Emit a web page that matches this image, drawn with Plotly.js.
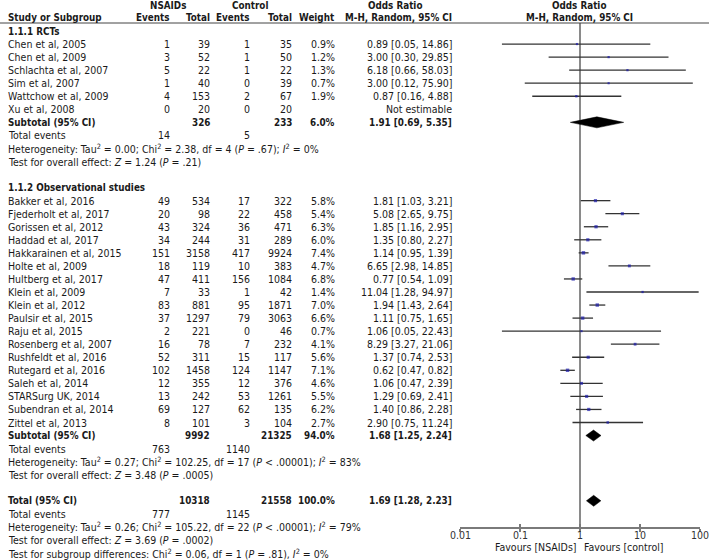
<!DOCTYPE html>
<html><head><meta charset="utf-8">
<script src="https://cdn.plot.ly/plotly-3.0.1.min.js"></script>
<style>html,body{margin:0;padding:0;background:#fff}</style>
</head><body><div id="chart" style="width:709px;height:560px"></div>
<script>
// ---------------- DATA ----------------
const rctStudies = ['Chen et al, 2005','Chen et al, 2009','Schlachta et al, 2007','Sim et al, 2007','Wattchow et al, 2009','Xu et al, 2008'];
const rctNsaidEvents = [1,3,5,1,4,0];
const rctNsaidTotal = [39,52,22,40,153,20];
const rctCtrlEvents = [1,1,1,0,2,0];
const rctCtrlTotal = [35,50,22,39,67,20];
const rctWeight = [0.9,1.2,1.3,0.7,1.9,null];
const rctOR = [0.89,3.00,6.18,3.00,0.87,null];
const rctLo = [0.05,0.30,0.66,0.12,0.16,null];
const rctHi = [14.86,29.85,58.03,75.90,4.88,null];

const obsStudies = ['Bakker et al, 2016','Fjederholt et al, 2017','Gorissen et al, 2012','Haddad et al, 2017','Hakkarainen et al, 2015','Holte et al, 2009','Hultberg et al, 2017','Klein et al, 2009','Klein et al, 2012','Paulsir et al, 2015','Raju et al, 2015','Rosenberg et al, 2007','Rushfeldt et al, 2016','Rutegard et al, 2016','Saleh et al, 2014','STARSurg UK, 2014','Subendran et al, 2014','Zittel et al, 2013'];
const obsNsaidEvents = [49,20,43,34,151,18,47,7,83,37,2,16,52,102,12,13,69,8];
const obsNsaidTotal = [534,98,324,244,3158,119,411,33,881,1297,221,78,311,1458,355,242,127,101];
const obsCtrlEvents = [17,22,36,31,417,10,156,1,95,79,0,7,15,124,12,53,62,3];
const obsCtrlTotal = [322,458,471,289,9924,383,1084,42,1871,3063,46,232,117,1147,376,1261,135,104];
const obsWeight = [5.8,5.4,6.3,6.0,7.4,4.7,6.8,1.4,7.0,6.6,0.7,4.1,5.6,7.1,4.6,5.5,6.2,2.7];
const obsOR = [1.81,5.08,1.85,1.35,1.14,6.65,0.77,11.04,1.94,1.11,1.06,8.29,1.37,0.62,1.06,1.29,1.40,2.90];
const obsLo = [1.03,2.65,1.16,0.80,0.95,2.98,0.54,1.28,1.43,0.75,0.05,3.27,0.74,0.47,0.47,0.69,0.86,0.75];
const obsHi = [3.21,9.75,2.95,2.27,1.39,14.85,1.09,94.97,2.64,1.65,22.43,21.06,2.53,0.82,2.39,2.41,2.28,11.24];

// subtotal / total summaries: [RCTs, Observational, Total]
const sumLabels = ['Subtotal (95% CI)','Subtotal (95% CI)','Total (95% CI)'];
const sumNsaidTotal = [326,9992,10318];
const sumCtrlTotal = [233,21325,21558];
const sumWeight = ['6.0%','94.0%','100.0%'];
const sumOR = [1.91,1.68,1.69];
const sumLo = [0.69,1.25,1.28];
const sumHi = [5.35,2.24,2.23];
const sumNsaidEvents = [14,763,777];
const sumCtrlEvents = [5,1140,1145];
const hetTau2 = ['0.00','0.27','0.26'];
const hetChi2 = ['2.38','102.25','105.22'];
const hetDf = [4,17,22];
const hetP = ['= .67','< .00001','< .00001'];
const hetI2 = ['0%','83%','79%'];
const effZ = ['1.24','3.48','3.69'];
const effP = ['= .21','= .0005','= .0002'];
const subgroupText = 'Test for subgroup differences: Chi<sup>2</sup> = 0.06, df = 1 (<i>P</i> = .81), <i>I</i><sup>2</sup> = 0%';
const sectionLabels = ['1.1.1 RCTs','1.1.2 Observational studies'];
const tickVals = [0.01,0.1,1,10,100];
const tickText = ['0.01','0.1','1','10','100'];

// ---------------- LAYOUT HELPERS ----------------
const W = 709, H = 560;
const RH = 13.05, TOP = 31;          // row height (px), first row centre (px)
const FONT = '"DejaVu Sans Condensed", "DejaVu Sans", sans-serif';
const FS = 10.5, FSB = 9.8;
const TXT = '#1a1a1a';
const AXIS_Y = 527, HEAD_LINE = 23;
const COL = {label:8, ne:170, nt:210, ce:250, ct:292, w:335, or:452};

const annotations = [];
function ann(xpx, row, text, anchor, bold, extra) {
  annotations.push(Object.assign({
    xref:'paper', yref:'y', x:xpx/W, y:row, text: bold ? '<b>'+text+'</b>' : text,
    xanchor:anchor, yanchor:'middle', showarrow:false, borderpad:0, borderwidth:0,
    font:{family:FONT, size: bold ? FSB : FS, color:TXT}
  }, extra||{}));
}
const f2 = v => v.toFixed(2);
const orTxt = (o,l,h) => f2(o)+' ['+f2(l)+', '+f2(h)+']';

let r = 0;
const ciX=[], ciY=[], mkX=[], mkY=[], mkS=[], dX=[], dY=[];

function studyRows(names, ne, nt, ce, ct, w, or, lo, hi) {
  names.forEach((n,i)=>{
    ann(COL.label, r, n, 'left');
    ann(COL.ne, r, String(ne[i]), 'right');
    ann(COL.nt, r, String(nt[i]), 'right');
    ann(COL.ce, r, String(ce[i]), 'right');
    ann(COL.ct, r, String(ct[i]), 'right');
    if (w[i] !== null) {
      ann(COL.w, r, w[i].toFixed(1)+'%', 'right');
      ann(COL.or, r, orTxt(or[i],lo[i],hi[i]), 'right');
      ciX.push(lo[i], hi[i], null); ciY.push(r, r, null);
      mkX.push(or[i]); mkY.push(r); mkS.push(2 + w[i]*0.2);
    } else {
      ann(COL.or, r, 'Not estimable', 'right');
    }
    r++;
  });
}
function summaryRows(k) {
  ann(COL.label, r, sumLabels[k], 'left', true);
  ann(COL.nt, r, String(sumNsaidTotal[k]), 'right', true);
  ann(COL.ct, r, String(sumCtrlTotal[k]), 'right', true);
  ann(COL.w, r, sumWeight[k], 'right', true);
  ann(COL.or, r, orTxt(sumOR[k],sumLo[k],sumHi[k]), 'right', true);
  const h = 0.42;
  dX.push(sumLo[k], sumOR[k], sumHi[k], sumOR[k], sumLo[k], null);
  dY.push(r, r-h, r, r+h, r, null);
  r++;
  ann(COL.label, r, 'Total events', 'left');
  ann(COL.ne, r, String(sumNsaidEvents[k]), 'right');
  ann(COL.ce, r, String(sumCtrlEvents[k]), 'right');
  r++;
  ann(COL.label, r, 'Heterogeneity: Tau<sup>2</sup> = '+hetTau2[k]+'; Chi<sup>2</sup> = '+hetChi2[k]+', df = '+hetDf[k]+' (<i>P</i> '+hetP[k]+'); <i>I</i><sup>2</sup> = '+hetI2[k], 'left');
  r++;
  ann(COL.label, r, 'Test for overall effect: <i>Z</i> = '+effZ[k]+' (<i>P</i> '+effP[k]+')', 'left');
  r++;
}

ann(COL.label, r, sectionLabels[0], 'left', true); r++;
studyRows(rctStudies, rctNsaidEvents, rctNsaidTotal, rctCtrlEvents, rctCtrlTotal, rctWeight, rctOR, rctLo, rctHi);
summaryRows(0);
r++;
ann(COL.label, r, sectionLabels[1], 'left', true); r++;
studyRows(obsStudies, obsNsaidEvents, obsNsaidTotal, obsCtrlEvents, obsCtrlTotal, obsWeight, obsOR, obsLo, obsHi);
summaryRows(1);
r++;
summaryRows(2);
ann(COL.label, r, subgroupText, 'left'); r++;

// header
const rowOf = px => (px - TOP) / RH;
ann(168, rowOf(5), 'NSAIDs', 'center', true);
ann(250, rowOf(5), 'Control', 'center', true);
ann(395, rowOf(5), 'Odds Ratio', 'center', true);
ann(579, rowOf(5), 'Odds Ratio', 'center', true);
ann(COL.label, rowOf(17.5), 'Study or Subgroup', 'left', true);
ann(COL.ne, rowOf(17.5), 'Events', 'right', true);
ann(COL.nt, rowOf(17.5), 'Total', 'right', true);
ann(COL.ce, rowOf(17.5), 'Events', 'right', true);
ann(COL.ct, rowOf(17.5), 'Total', 'right', true);
ann(COL.w, rowOf(17.5), 'Weight', 'right', true);
ann(COL.or, rowOf(17.5), 'M-H, Random, 95% CI', 'right', true);
ann(579, rowOf(17.5), 'M-H, Random, 95% CI', 'center', true);
// axis tick labels (drawn as annotations on the log axis)
tickVals.forEach((v,i)=>{
  annotations.push({xref:'x', yref:'paper', x:Math.log10(v), y:(H-535)/H, text:tickText[i], xanchor:'center', yanchor:'middle', showarrow:false, borderpad:0, borderwidth:0, font:{family:FONT, size:FS, color:'#333'}});
});
// favours labels
annotations.push({xref:'paper', yref:'paper', x:577/W, y:(H-546.5)/H, text:'Favours [NSAIDs]', xanchor:'right', yanchor:'middle', showarrow:false, borderpad:0, borderwidth:0, font:{family:FONT, size:FS, color:TXT}});
annotations.push({xref:'paper', yref:'paper', x:584/W, y:(H-546.5)/H, text:'Favours [control]', xanchor:'left', yanchor:'middle', showarrow:false, borderpad:0, borderwidth:0, font:{family:FONT, size:FS, color:TXT}});

const traces = [
  {x:ciX, y:ciY, mode:'lines', line:{color:'#333', width:1.3}, hoverinfo:'skip', showlegend:false},
  {x:mkX, y:mkY, mode:'markers', marker:{symbol:'square', size:mkS, color:'#1a1aa8', line:{width:0}}, hoverinfo:'skip', showlegend:false},
  {x:dX, y:dY, mode:'lines', fill:'toself', fillcolor:'#000', line:{color:'#000', width:0.5}, hoverinfo:'skip', showlegend:false},
  {x:[1], y:[null], xaxis:'x2', yaxis:'y', mode:'markers', hoverinfo:'skip', showlegend:false}
];

const axPos = (H-AXIS_Y)/H;
const baseX = {
  type:'log', range:[-2,2], domain:[460/W, 700/W], anchor:'free', position:axPos,
  tickvals:tickVals, ticktext:tickText, ticklen:3, tickwidth:1.2, tickcolor:'#7a7a7a',
  showgrid:false, zeroline:false, fixedrange:true, autorange:false, showticklabels:false
};
const layout = {
  width:W, height:H, margin:{l:0,r:0,t:0,b:0}, paper_bgcolor:'#fff', plot_bgcolor:'#fff',
  showlegend:false, hovermode:false,
  xaxis:Object.assign({}, baseX, {ticks:'outside', showline:true, linecolor:'#7a7a7a', linewidth:1.5}),
  xaxis2:Object.assign({}, baseX, {overlaying:'x', ticks:'inside', showline:false}),
  yaxis:{range:[rowOf(H), rowOf(0)], autorange:false, domain:[0,1], visible:false, fixedrange:true},
  shapes:[
    {type:'line', xref:'paper', yref:'paper', x0:0, x1:1, y0:(H-HEAD_LINE)/H, y1:(H-HEAD_LINE)/H, line:{color:'#444', width:1}},
    {type:'line', xref:'x', yref:'paper', x0:1, x1:1, y0:axPos, y1:(H-HEAD_LINE)/H, line:{color:'#8a8a8a', width:2}, layer:'below'}
  ],
  annotations:annotations
};
Plotly.newPlot('chart', traces, layout, {staticPlot:true, displayModeBar:false});
</script></body></html>
